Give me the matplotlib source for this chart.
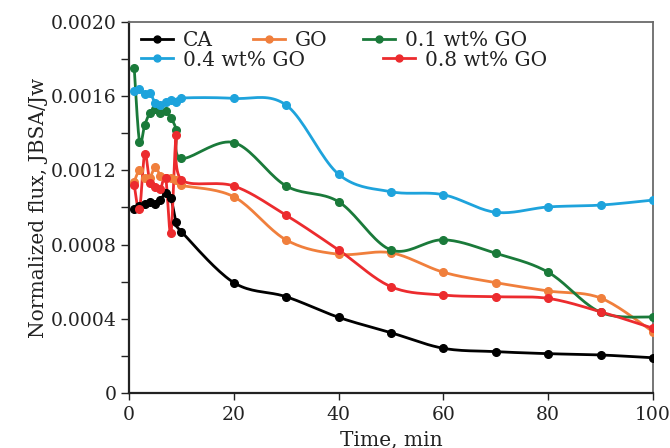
import numpy as np
import matplotlib
matplotlib.use("Agg")
import matplotlib.pyplot as plt
from matplotlib.lines import Line2D
from matplotlib.legend import Legend
from matplotlib.ticker import MultipleLocator, FuncFormatter

# ---- data ----
time = [1, 2, 3, 4, 5, 6, 7, 8, 9, 10, 20, 30, 40, 50, 60, 70, 80, 90, 100]

ca = [0.00099, 0.00101, 0.00102, 0.00103, 0.00102, 0.00104, 0.00108, 0.00105, 0.00092, 0.00087,
      0.000595, 0.000519, 0.000408, 0.000325, 0.000241, 0.000223, 0.000212, 0.000205, 0.00019]
go = [0.00114, 0.00120, 0.00116, 0.00116, 0.00122, 0.00117, 0.00116, 0.00116, 0.00115, 0.00112,
      0.001058, 0.000825, 0.000748, 0.000756, 0.000651, 0.000595, 0.00055, 0.000512, 0.00033]
go01 = [0.00175, 0.001355, 0.001445, 0.00151, 0.00153, 0.00151, 0.00152, 0.00148, 0.00142, 0.001265,
        0.00135, 0.001116, 0.001031, 0.000771, 0.000826, 0.000753, 0.000651, 0.000435, 0.00041]
go04 = [0.00163, 0.001637, 0.00161, 0.001615, 0.001565, 0.00155, 0.00157, 0.00158, 0.00157, 0.00159,
        0.001588, 0.001552, 0.001179, 0.001085, 0.001069, 0.000974, 0.001003, 0.001013, 0.00104]
go08 = [0.00112, 0.00099, 0.00129, 0.00113, 0.00111, 0.00110, 0.00116, 0.00086, 0.00139, 0.00115,
        0.001116, 0.000958, 0.000771, 0.000573, 0.000528, 0.000519, 0.000510, 0.000438, 0.000349]

labels = ["CA", "GO", "0.1 wt% GO", "0.4 wt% GO", "0.8 wt% GO"]
series = [ca, go, go01, go04, go08]
colors = ["#000000", "#F07F3C", "#1A7A3A", "#1EA3DC", "#EC2B2E"]

xticks = [0, 20, 40, 60, 80, 100]
yticks = [0, 0.0004, 0.0008, 0.0012, 0.0016, 0.0020]


def smooth(x, y, n=20):
    """Catmull-Rom style smooth curve through the given points (for drawing)."""
    x = np.asarray(x, float)
    y = np.asarray(y, float)
    px = np.concatenate([[x[0]], x, [x[-1]]])
    py = np.concatenate([[y[0]], y, [y[-1]]])
    xs, ys = [], []
    for i in range(1, len(px) - 2):
        p0x, p1x, p2x, p3x = px[i - 1], px[i], px[i + 1], px[i + 2]
        p0y, p1y, p2y, p3y = py[i - 1], py[i], py[i + 1], py[i + 2]
        c1x, c1y = p1x + (p2x - p0x) / 6, p1y + (p2y - p0y) / 6
        c2x, c2y = p2x - (p3x - p1x) / 6, p2y - (p3y - p1y) / 6
        t = np.linspace(0, 1, n, endpoint=(i == len(px) - 3))
        b0, b1, b2, b3 = (1 - t) ** 3, 3 * t * (1 - t) ** 2, 3 * t ** 2 * (1 - t), t ** 3
        xs.append(b0 * p1x + b1 * c1x + b2 * c2x + b3 * p2x)
        ys.append(b0 * p1y + b1 * c1y + b2 * c2y + b3 * p2y)
    return np.concatenate(xs), np.concatenate(ys)


plt.rcParams["font.family"] = ["DejaVu Serif"]
plt.rcParams["font.size"] = 13.5

fig = plt.figure(figsize=(6.7, 4.48), dpi=100)
ax = fig.add_axes([129 / 670, 1 - 393 / 448, (653 - 129) / 670, (393 - 22) / 448])

for ys, c in zip(series, colors):
    sx, sy = smooth(time, ys)
    ax.plot(sx, sy, color=c, lw=2.0, solid_capstyle="round", zorder=2)
    ax.plot(time, ys, ls="none", marker="o", ms=5.5, color=c, zorder=3)

ax.set_xlim(0, 100)
ax.set_ylim(0, 0.0020)
ax.set_xticks(xticks)
ax.set_yticks(yticks)
ax.yaxis.set_minor_locator(MultipleLocator(0.0002))
ax.yaxis.set_major_formatter(FuncFormatter(lambda v, p: "0" if abs(v) < 1e-12 else f"{v:.4f}"))
ax.tick_params(axis="y", which="major", direction="out", length=6, width=1.0, pad=3, colors="#222222",
               labelcolor="#222222")
ax.tick_params(axis="y", which="minor", direction="out", length=6, width=1.0, colors="#222222")
ax.tick_params(axis="x", which="major", direction="out", length=5, width=1.0, pad=4, colors="#222222",
               labelcolor="#222222")

for s in ["left", "bottom"]:
    ax.spines[s].set_color("#222222")
    ax.spines[s].set_linewidth(1.6)
for s in ["top", "right"]:
    ax.spines[s].set_color("#6a6a6a")
    ax.spines[s].set_linewidth(1.3)

ax.set_xlabel("Time, min", color="#222222", labelpad=5, fontsize=14.5)
ax.set_ylabel("Normalized flux, JBSA/Jw", color="#222222", labelpad=2, fontsize=14.5)

# legend entries placed individually to match the reference layout
legend_pos = [(141, 41), (253, 41), (363, 41), (141, 60), (383, 60)]
for lab, c, (px, py) in zip(labels, colors, legend_pos):
    h = Line2D([], [], color=c, lw=2.0, marker="o", ms=5)
    lg = Legend(ax, [h], [lab], loc="center left",
                bbox_to_anchor=(px / 670, 1 - py / 448), bbox_transform=fig.transFigure,
                frameon=False, borderpad=0, borderaxespad=0, handlelength=1.6,
                handletextpad=0.5, fontsize=14.5)
    for t in lg.get_texts():
        t.set_color("#222222")
    ax.add_artist(lg)

fig.savefig("out.png", dpi=100)
